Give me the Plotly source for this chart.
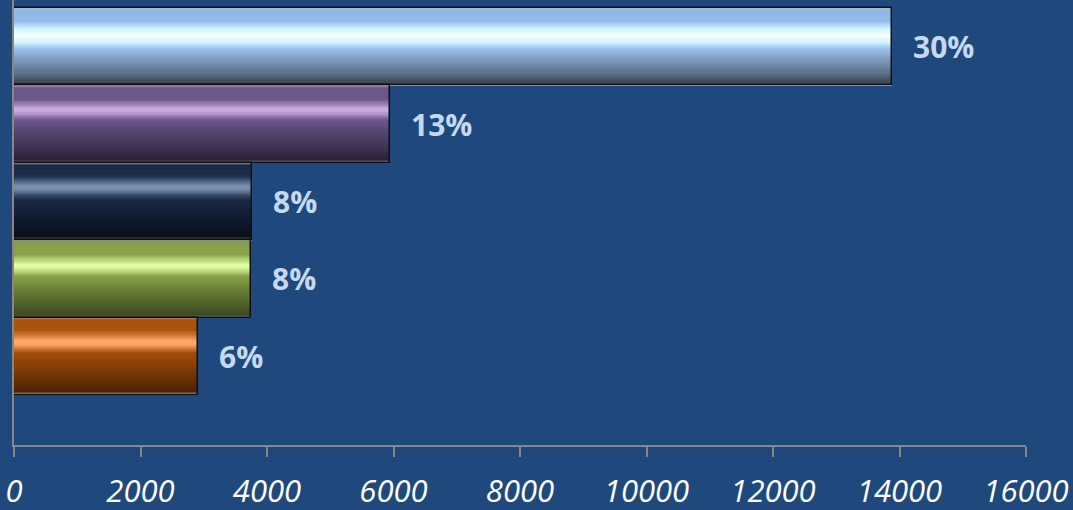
import plotly.graph_objects as go

# ---- data (top bar first) ----
categories = ["Catégorie 1", "Catégorie 2", "Catégorie 3", "Catégorie 4", "Catégorie 5"]
values = [13880, 5950, 3765, 3740, 2910]
pct_labels = ["30%", "13%", "8%", "8%", "6%"]
x_ticks = [0, 2000, 4000, 6000, 8000, 10000, 12000, 14000, 16000]

# ---- glossy colour profiles (fraction from top of bar -> colour) ----
profiles = [
    [(0, '#AAB8C8'), (0.03, '#8DB5E6'), (0.16, '#93BBEC'), (0.27, '#D2F6FF'), (0.35, '#F8FFFF'),
     (0.44, '#D0F2FF'), (0.52, '#9CC3EC'), (0.66, '#7C9CC0'), (0.82, '#60768E'), (0.93, '#44505E'),
     (0.962, '#3C4652'), (0.972, '#8C9096'), (1, '#8C9096')],
    [(0, '#8E8A9A'), (0.03, '#6B5589'), (0.18, '#6E588C'), (0.29, '#C8ADDE'), (0.33, '#C5AADB'),
     (0.44, '#6E5890'), (0.6, '#54446E'), (0.82, '#3C3050'), (0.93, '#2C2236'),
     (0.962, '#2A2232'), (0.972, '#8E8C96'), (1, '#8E8C96')],
    [(0, '#8A8E98'), (0.03, '#1A2A46'), (0.16, '#1C2D4A'), (0.3, '#7890AE'), (0.34, '#7188A6'),
     (0.46, '#1A2A44'), (0.62, '#142036'), (0.85, '#0C1422'), (0.962, '#0A101A'),
     (0.972, '#7C7E84'), (1, '#7C7E84')],
    [(0, '#8A9078'), (0.03, '#86A04A'), (0.18, '#88A24C'), (0.31, '#E2FFA6'), (0.35, '#DCFA9E'),
     (0.46, '#88A24A'), (0.62, '#6A8236'), (0.85, '#4A5C28'), (0.962, '#3A4820'),
     (0.972, '#7E8270'), (1, '#7E8270')],
    [(0, '#B07A58'), (0.03, '#A8520C'), (0.16, '#AA540E'), (0.3, '#FFAA6A'), (0.34, '#FBA264'),
     (0.46, '#A24A08'), (0.62, '#864006'), (0.85, '#5C2C06'), (0.962, '#4A2204'),
     (0.972, '#C8C4C0'), (1, '#C8C4C0')],
]


def hex2rgb(h):
    h = h.lstrip('#')
    return tuple(int(h[i:i + 2], 16) for i in (0, 2, 4))


def color_at(stops, f):
    for (p0, c0), (p1, c1) in zip(stops[:-1], stops[1:]):
        if p0 <= f <= p1:
            t = 0 if p1 == p0 else (f - p0) / (p1 - p0)
            a, b = hex2rgb(c0), hex2rgb(c1)
            return 'rgb(%d,%d,%d)' % tuple(round(a[k] + (b[k] - a[k]) * t) for k in range(3))
    return stops[-1][1]


# bottom-first order for the y axis
cats_b = categories[::-1]
vals_b = values[::-1]
prof_b = profiles[::-1]
lab_b = pct_labels[::-1]

fig = go.Figure()
N = 70
for i in range(N):
    f_top = 1 - (i + 0.5) / N  # fraction measured from top of bar
    fig.add_trace(go.Bar(
        x=vals_b, y=cats_b, orientation='h',
        offset=-0.5 + i / N, width=1.0 / N * 1.05,
        marker=dict(color=[color_at(p, f_top) for p in prof_b], line=dict(width=0)),
        hoverinfo='skip', showlegend=False,
    ))

# outline
fig.add_trace(go.Bar(
    x=vals_b, y=cats_b, orientation='h', offset=-0.5, width=1.0,
    marker=dict(color='rgba(0,0,0,0)', line=dict(color='#0E0E14', width=1.5)),
    hoverinfo='skip', showlegend=False,
))

for v, c, t in zip(vals_b, cats_b, lab_b):
    fig.add_annotation(x=v, y=c, text=t, showarrow=False, xanchor='left', yanchor='middle',
                       xshift=19, font=dict(family='Open Sans', size=30, color='#C6D9F1', weight='bold'))

fig.update_layout(
    width=1073, height=510,
    margin=dict(l=14, r=47, t=0, b=65, autoexpand=False),
    paper_bgcolor='#1F497D', plot_bgcolor='#1F497D',
    barmode='overlay', bargap=0,
    xaxis=dict(range=[0, 16000], tickvals=x_ticks, ticktext=[str(v) for v in x_ticks],
               automargin=False,
               showgrid=False, zeroline=False, showline=True, linecolor='#878787', linewidth=2,
               ticks='outside', ticklen=10, tickwidth=2, tickcolor='#878787',
               ticklabelstandoff=8,
               tickfont=dict(family='Open Sans', size=31, color='white', style='italic')),
    yaxis=dict(type='category', categoryorder='array', categoryarray=cats_b, automargin=False,
               range=[-1.146, 4.603], showgrid=False, zeroline=False, showticklabels=False,
               showline=True, linecolor='#878787', linewidth=2, ticks=''),
)

fig.write_html("out.html", config={"displayModeBar": False},
               post_script="document.body.style.margin='0';document.body.style.background='#1F497D';")
